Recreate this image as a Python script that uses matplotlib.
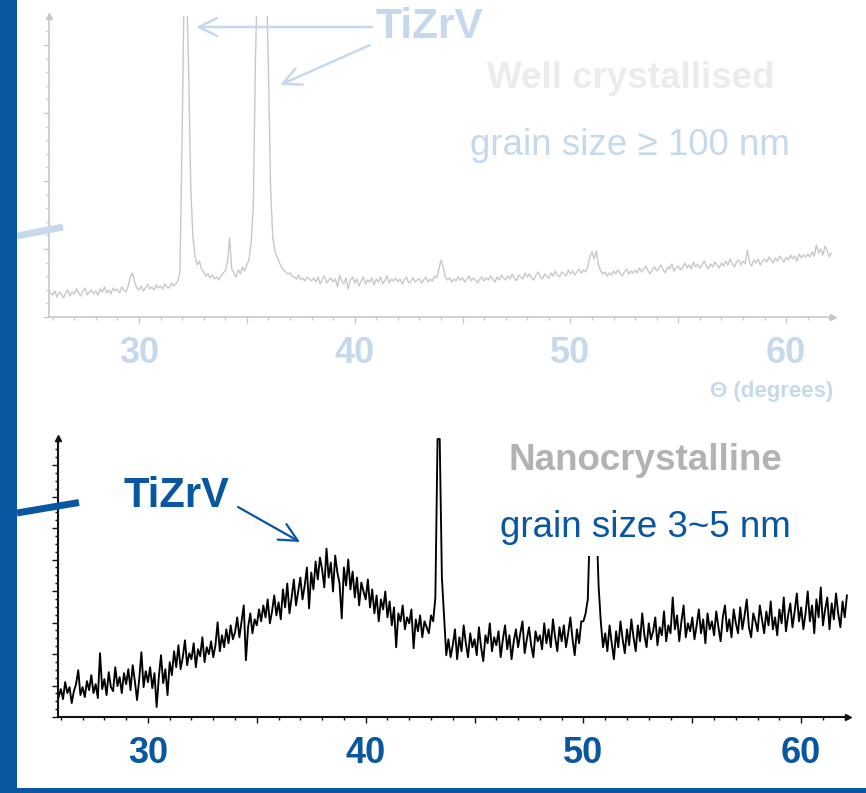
import numpy as np
import matplotlib
matplotlib.use("Agg")
import matplotlib.pyplot as plt
from matplotlib.patches import Rectangle, FancyArrowPatch
from matplotlib.lines import Line2D
from matplotlib.ticker import MultipleLocator

plt.rcParams['font.family'] = ['Liberation Sans', 'DejaVu Sans']

# ---------------- data ----------------
x_start = 25.9          # first sample, degrees
x_step = 0.1            # sampling step, degrees

# Well crystallised TiZrV (upper, faded panel) - intensity, arbitrary units
well_intensity = (
    [24] +
    [22, 26, 20, 25, 23, 19, 24, 27, 21, 25] +      # 26
    [23, 28, 24, 21, 26, 29, 22, 25, 27, 23] +      # 27
    [26, 22, 28, 25, 30, 24, 27, 23, 29, 26] +      # 28
    [28, 24, 30, 27, 25, 31, 40, 44, 35, 29] +      # 29
    [27, 31, 26, 29, 33, 28, 30, 27, 32, 29] +      # 30
    [31, 28, 33, 30, 29, 34, 31, 33, 36, 45] +      # 31
    [180, 340, 340, 250, 130, 80, 60, 52, 56, 48] + # 32
    [45, 41, 43, 39, 42, 38, 40, 37, 41, 44] +      # 33
    [46, 55, 79, 48, 44, 40, 47, 43, 50, 46] +      # 34
    [52, 57, 75, 110, 260, 340, 340, 340, 340, 340] +  # 35
    [250, 130, 80, 66, 60, 55, 50, 47, 45, 43] +    # 36
    [44, 41, 40, 38, 42, 37, 39, 36, 40, 38] +      # 37
    [36, 39, 35, 40, 33, 38, 41, 34, 37, 39] +      # 38
    [35, 38, 30, 42, 36, 33, 39, 28, 37, 40] +      # 39
    [34, 38, 31, 36, 40, 33, 37, 35, 39, 32] +      # 40
    [38, 35, 40, 33, 37, 41, 34, 38, 36, 39] +      # 41
    [35, 38, 33, 37, 40, 34, 36, 39, 35, 37] +      # 42
    [38, 34, 37, 40, 35, 38, 36, 41, 39, 48] +      # 43
    [57, 50, 40, 37, 39, 35, 38, 36, 40, 37] +      # 44
    [39, 35, 38, 41, 36, 39, 37, 34, 38, 40] +      # 45
    [36, 39, 37, 41, 38, 35, 40, 37, 42, 39] +      # 46
    [37, 41, 38, 43, 39, 36, 42, 40, 38, 44] +      # 47
    [40, 43, 39, 37, 42, 45, 40, 38, 43, 41] +      # 48
    [39, 44, 41, 46, 42, 40, 45, 43, 41, 47] +      # 49
    [43, 46, 42, 45, 48, 44, 47, 45, 50, 60] +      # 50
    [65, 58, 66, 52, 46, 43, 45, 41, 44, 42] +      # 51
    [46, 43, 47, 44, 41, 45, 48, 43, 46, 44] +      # 52
    [47, 44, 49, 45, 48, 51, 46, 43, 48, 50] +      # 53
    [46, 49, 52, 47, 44, 50, 48, 53, 46, 49] +      # 54
    [51, 47, 50, 54, 49, 52, 48, 55, 50, 53] +      # 55
    [49, 52, 56, 51, 48, 53, 50, 55, 52, 49] +      # 56
    [54, 51, 56, 52, 58, 53, 50, 55, 57, 52] +      # 57
    [56, 53, 67, 55, 51, 57, 54, 58, 52, 56] +      # 58
    [58, 55, 60, 57, 54, 59, 56, 61, 58, 55] +      # 59
    [60, 57, 62, 58, 61, 56, 63, 59, 62, 60] +      # 60
    [63, 60, 65, 61, 72, 64, 68, 62, 71, 66] +      # 61
    [60, 64]                                        # 62
)

# Nanocrystalline TiZrV (lower panel) - intensity, arbitrary units
nano_intensity = (
    [20] +
    [28, 18, 35, 24, 30, 14, 26, 33, 47, 22] +      # 26
    [30, 20, 36, 27, 42, 24, 33, 19, 64, 28] +      # 27
    [38, 22, 45, 30, 26, 50, 31, 40, 24, 44] +      # 28
    [33, 48, 27, 52, 36, 17, 38, 65, 30, 46] +      # 29
    [35, 50, 29, 44, 10, 40, 62, 34, 48, 22] +      # 30
    [55, 42, 66, 50, 72, 48, 60, 77, 52, 64] +      # 31
    [58, 74, 50, 68, 61, 80, 55, 70, 63, 76] +      # 32
    [60, 72, 95, 66, 82, 70, 88, 74, 92, 78] +      # 33
    [85, 100, 80, 96, 112, 57, 90, 104, 84, 98] +   # 34
    [92, 108, 96, 112, 100, 118, 94, 106, 122, 102] +   # 35
    [115, 98, 128, 110, 134, 104, 120, 138, 112, 126] + # 36
    [140, 118, 132, 150, 109, 145, 128, 156, 138, 160] + # 37
    [148, 130, 169, 140, 155, 126, 162, 145, 134, 99] +  # 38
    [150, 132, 158, 128, 146, 120, 140, 112, 135, 126] + # 39
    [118, 138, 110, 128, 104, 122, 96, 118, 108, 126] +  # 40
    [100, 116, 92, 110, 70, 104, 96, 112, 88, 100] +     # 41
    [94, 108, 69, 98, 86, 102, 80, 96, 90, 84] +         # 42
    [102, 96, 120, 279, 279, 140, 100, 62, 78, 60] +     # 43
    [72, 88, 58, 80, 66, 92, 74, 60, 84, 70] +           # 44
    [78, 62, 90, 70, 56, 82, 74, 94, 66, 80] +           # 45
    [72, 86, 60, 78, 92, 68, 82, 58, 76, 88] +           # 46
    [70, 84, 96, 64, 78, 90, 72, 60, 86, 76] +           # 47
    [82, 68, 94, 74, 88, 70, 98, 80, 66, 90] +           # 48
    [76, 92, 70, 84, 100, 78, 62, 88, 74, 96] +          # 49
    [96, 104, 118, 195, 195, 195, 195, 130, 95, 70] +    # 50
    [84, 66, 92, 74, 58, 86, 70, 96, 78, 64] +           # 51
    [88, 72, 98, 80, 66, 92, 76, 104, 82, 70] +          # 52
    [94, 78, 86, 100, 72, 90, 82, 106, 76, 92] +         # 53
    [84, 120, 88, 102, 76, 96, 112, 80, 94, 86] +        # 54
    [100, 78, 92, 108, 84, 98, 74, 104, 88, 96] +        # 55
    [82, 106, 90, 76, 100, 112, 86, 98, 80, 108] +       # 56
    [94, 84, 110, 88, 102, 118, 90, 80, 104, 96] +       # 57
    [86, 112, 98, 84, 106, 92, 116, 88, 100, 82] +       # 58
    [108, 94, 120, 86, 102, 114, 90, 106, 124, 96] +     # 59
    [110, 88, 104, 126, 96, 112, 84, 118, 100, 130] +    # 60
    [92, 108, 120, 88, 114, 98, 124, 104, 90, 116] +     # 61
    [100, 122]                                           # 62
)

x_major_ticks = [30, 35, 40, 45, 50, 55, 60]
x_tick_labels = ['30', '', '40', '', '50', '', '60']
top_xlim = (25.83, 62.17)
top_ylim = (0, 301)
bottom_xlim = (25.87, 62.15)
bottom_ylim = (0, 280)

# ---------------- styling ----------------
BLUE = '#0857a0'
LIGHT_BLUE = '#c6d9ec'
GRAY_LINE = '#c8c8c8'

W, H = 866, 793
fig = plt.figure(figsize=(W / 100, H / 100), dpi=100)
fig.patch.set_facecolor('white')


def fx(px):
    return px / W


def fy(py):
    return 1 - py / H


def style_axes(ax, color, lw, ymajor, yminor, labelcolor):
    for s in ['top', 'right']:
        ax.spines[s].set_visible(False)
    for s in ['left', 'bottom']:
        ax.spines[s].set_color(color)
        ax.spines[s].set_linewidth(lw)
    ax.set_xticks(x_major_ticks, labels=x_tick_labels, fontsize=26,
                  fontweight='bold', color=labelcolor)
    ax.xaxis.set_minor_locator(MultipleLocator(1))
    ax.yaxis.set_major_locator(MultipleLocator(ymajor))
    ax.yaxis.set_minor_locator(MultipleLocator(yminor))
    ax.tick_params(axis='both', which='both', direction='out', color=color, width=1)
    ax.tick_params(which='major', length=4.5)
    ax.tick_params(which='minor', length=2.5)
    ax.tick_params(axis='y', labelleft=False)
    ax.tick_params(axis='x', which='major', pad=9)
    ax.patch.set_alpha(0)
    ax.plot(1, 0, '>', color=color, ms=5, transform=ax.transAxes, clip_on=False)
    ax.plot(0, 1, '^', color=color, ms=5, transform=ax.transAxes, clip_on=False)


# upper panel
ax_top = fig.add_axes([fx(49), fy(317), (833 - 49) / W, (317 - 16) / H])
x_top = x_start + x_step * np.arange(len(well_intensity))
ax_top.plot(x_top, well_intensity, color=GRAY_LINE, lw=1.0)
ax_top.set_xlim(*top_xlim)
ax_top.set_ylim(*top_ylim)
style_axes(ax_top, GRAY_LINE, 1.2, 68, 13.6, LIGHT_BLUE)

# lower panel
ax_bot = fig.add_axes([fx(58), fy(717), (848 - 58) / W, (717 - 438) / H])
x_bot = x_start + x_step * np.arange(len(nano_intensity))
ax_bot.plot(x_bot, nano_intensity, color='black', lw=1.35)
ax_bot.set_xlim(*bottom_xlim)
ax_bot.set_ylim(*bottom_ylim)
style_axes(ax_bot, '#111111', 1.5, 31.6, 7.9, BLUE)

# slide decorations
fig.patches.append(Rectangle((0, 0), 17 / W, 1, transform=fig.transFigure,
                             facecolor=BLUE, edgecolor='none', zorder=5))
fig.patches.append(Rectangle((0, 0), 1, 5 / H, transform=fig.transFigure,
                             facecolor=BLUE, edgecolor='none', zorder=5))
fig.lines.append(Line2D([fx(17), fx(63)], [fy(236), fy(227)], lw=5,
                        color=LIGHT_BLUE, transform=fig.transFigure,
                        solid_capstyle='butt'))
fig.lines.append(Line2D([fx(17), fx(79)], [fy(513), fy(502.5)], lw=5,
                        color=BLUE, transform=fig.transFigure,
                        solid_capstyle='butt'))


def arrow(p0, p1, color, lw):
    a = FancyArrowPatch((fx(p0[0]), fy(p0[1])), (fx(p1[0]), fy(p1[1])),
                        transform=fig.transFigure,
                        arrowstyle='->,head_length=0.65,head_width=0.32',
                        mutation_scale=20, color=color, lw=lw,
                        shrinkA=0, shrinkB=0)
    fig.patches.append(a)


arrow((372, 27), (196, 27), LIGHT_BLUE, 1.8)
arrow((370, 45), (280, 85), LIGHT_BLUE, 1.8)
arrow((238, 507), (300, 542), BLUE, 1.6)

# texts
fig.text(fx(376), fy(38), 'TiZrV', fontsize=30.5, fontweight='bold',
         color=LIGHT_BLUE, ha='left', va='baseline')
fig.text(fx(631), fy(88), 'Well crystallised', fontsize=26.5, fontweight='bold',
         color='#ececec', ha='center', va='baseline')
fig.text(fx(630), fy(155), 'grain size ≥ 100 nm', fontsize=26.5,
         color=LIGHT_BLUE, ha='center', va='baseline')
fig.text(fx(833), fy(397), 'Θ (degrees)', fontsize=16, fontweight='bold',
         color=LIGHT_BLUE, ha='right', va='baseline')
fig.text(fx(123), fy(507), 'TiZrV', fontsize=30, fontweight='bold',
         color=BLUE, ha='left', va='baseline')
fig.text(fx(645), fy(470), 'Nanocrystalline', fontsize=26.5, fontweight='bold',
         color='#b2b2b2', ha='center', va='baseline')
fig.text(fx(645), fy(537), 'grain size 3~5 nm', fontsize=26.5,
         color=BLUE, ha='center', va='baseline',
         bbox=dict(facecolor='white', edgecolor='none', boxstyle='square,pad=0.3'))

fig.savefig('out.png', dpi=100, facecolor='white')
